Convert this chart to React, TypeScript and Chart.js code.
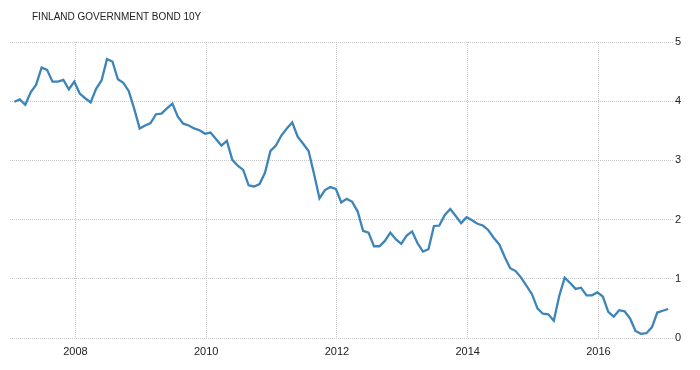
import React, { useEffect, useRef } from "react";
import { Chart, registerables } from "chart.js";

Chart.register(...registerables);

const title = "FINLAND GOVERNMENT BOND 10Y";
const startYear = 2007;
const yearTicks = [2008, 2010, 2012, 2014, 2016];
const yTicks = [0, 1, 2, 3, 4, 5];
// Monthly yields, Jan 2007 .. Jan 2017
const yields = [
  3.99, 4.03, 3.94, 4.15, 4.28, 4.57, 4.53, 4.33, 4.33, 4.36, 4.2, 4.33,
  4.13, 4.05, 3.98, 4.21, 4.35, 4.71, 4.67, 4.37, 4.31, 4.17, 3.87, 3.54,
  3.59, 3.63, 3.78, 3.79, 3.88, 3.96, 3.74, 3.62, 3.59, 3.54, 3.51, 3.45,
  3.47, 3.36, 3.25, 3.33, 3.01, 2.91, 2.84, 2.58, 2.56, 2.6, 2.79, 3.16,
  3.25, 3.42, 3.54, 3.64, 3.4, 3.28, 3.16, 2.77, 2.36, 2.5, 2.55, 2.52,
  2.29, 2.35, 2.3, 2.14, 1.81, 1.78, 1.55, 1.55, 1.64, 1.78, 1.67, 1.59,
  1.73, 1.8, 1.6, 1.46, 1.5, 1.89, 1.9, 2.08, 2.18, 2.06, 1.94, 2.04,
  1.99, 1.93, 1.9, 1.82, 1.69, 1.58, 1.37, 1.18, 1.13, 1.02, 0.88, 0.74,
  0.5, 0.41, 0.4, 0.29, 0.71, 1.02, 0.93, 0.83, 0.85, 0.72, 0.72, 0.77,
  0.7, 0.44, 0.36, 0.47, 0.45, 0.33, 0.12, 0.07, 0.08, 0.18, 0.43, 0.46,
  0.49,
];

const FONT = "'Liberation Sans', Arial, sans-serif";

export default function App() {
  const ref = useRef<HTMLCanvasElement | null>(null);

  useEffect(() => {
    if (!ref.current) return;
    const points = yields.map((v, i) => ({ x: startYear + (i + 0.8) / 12, y: v }));
    const chart = new Chart(ref.current, {
      type: "line",
      data: {
        datasets: [
          {
            data: points,
            borderColor: "#3d84b8",
            borderWidth: 2.3,
            pointRadius: 0,
            tension: 0,
            fill: false,
          },
        ],
      },
      options: {
        animation: false,
        responsive: false,
        maintainAspectRatio: false,
        layout: { padding: { left: 10, top: 42, right: 0, bottom: 0 } },
        plugins: { legend: { display: false }, tooltip: { enabled: false }, title: { display: false } },
        scales: {
          x: {
            type: "linear",
            min: 2007,
            max: 2017.14,
            afterBuildTicks: (scale: any) => {
              scale.ticks = yearTicks.map((v) => ({ value: v }));
            },
            afterFit: (scale: any) => {
              scale.height = 32;
            },
            grid: { color: "#c8c8c8", drawTicks: false, lineWidth: 1 },
            border: { display: false, dash: [1, 1] },
            ticks: {
              padding: 7,
              color: "#222",
              font: { family: FONT, size: 11 },
              maxRotation: 0,
              callback: (v: any) => String(v),
            },
          },
          y: {
            position: "right",
            min: 0,
            max: 5,
            afterBuildTicks: (scale: any) => {
              scale.ticks = yTicks.map((v) => ({ value: v }));
            },
            afterFit: (scale: any) => {
              scale.width = 27;
            },
            grid: { color: "#c8c8c8", drawTicks: false, lineWidth: 1 },
            border: { display: false, dash: [1, 1] },
            ticks: {
              padding: 2,
              color: "#222",
              font: { family: FONT, size: 11 },
              callback: (v: any) => String(v),
            },
          },
        },
      },
    });
    return () => chart.destroy();
  }, []);

  return (
    <div style={{ position: "fixed", left: 0, top: 0, width: 700, height: 370, background: "#fff" }}>
      <div
        style={{
          position: "absolute",
          left: 32,
          top: 11,
          fontFamily: FONT,
          fontSize: 10,
          lineHeight: "12px",
          color: "#222",
          whiteSpace: "nowrap",
        }}
      >
        {title}
      </div>
      <canvas ref={ref} width={700} height={370} style={{ display: "block" }} />
    </div>
  );
}
